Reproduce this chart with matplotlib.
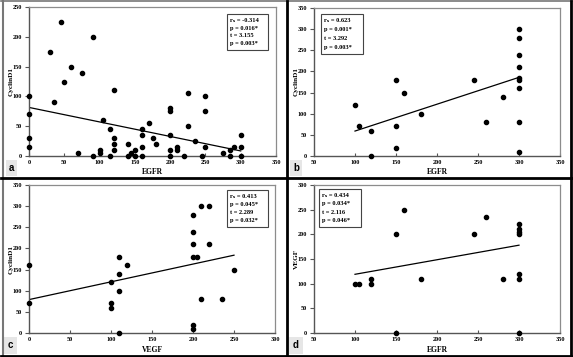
import matplotlib
matplotlib.use("Agg")
import matplotlib.pyplot as plt
from matplotlib.patches import Rectangle
from matplotlib.lines import Line2D

plt.rcParams['font.family'] = ['Liberation Serif', 'DejaVu Serif', 'DejaVu Sans']
plt.rcParams['font.weight'] = 'bold'

W, H = 573, 357

# panel a: CyclinD1 vs EGFR
a_x = [0, 0, 0, 0, 30, 35, 45, 50, 60, 70, 75, 90, 90, 100, 100, 105, 115, 115,
       120, 120, 120, 120, 140, 140, 145, 150, 150, 160, 160, 160, 160, 170, 175,
       180, 200, 200, 200, 200, 200, 210, 210, 220, 225, 225, 235, 245, 250, 250,
       250, 275, 285, 285, 290, 300, 300, 300]
a_y = [100, 70, 30, 15, 175, 90, 225, 125, 150, 5, 140, 200, 0, 10, 5, 60, 45, 0,
       110, 30, 20, 10, 20, 0, 5, 10, 0, 45, 35, 15, 0, 55, 30,
       20, 80, 75, 35, 10, 0, 15, 10, 0, 105, 50, 25, 0, 100, 75,
       15, 5, 10, 0, 15, 35, 15, 0]
a_fit_x = [0, 300]
a_fit_y = [81.5, 8.5]
a_stats = ["r\u209b = -0.314", "p = 0.016*", "t = 3.155", "p = 0.003*"]

# panel b: CyclinD1 vs EGFR
b_x = [100, 105, 120, 120, 150, 150, 150, 160, 180, 245, 260, 280,
       300, 300, 300, 300, 300, 300, 300, 300, 300]
b_y = [120, 70, 60, 0, 180, 70, 20, 150, 100, 180, 80, 140,
       300, 280, 240, 210, 185, 180, 160, 80, 10]
b_fit_x = [100, 300]
b_fit_y = [59, 186]
b_stats = ["r\u209b = 0.623", "p = 0.001*", "t = 3.292", "p = 0.003*"]

# panel c: CyclinD1 vs VEGF
c_x = [0, 0, 100, 100, 100, 110, 110, 110, 110, 120, 200, 200, 200, 200, 200,
       200, 205, 210, 210, 220, 220, 235, 250]
c_y = [160, 70, 120, 70, 60, 180, 140, 100, 0, 160, 280, 240, 210, 180, 20,
       10, 180, 300, 80, 300, 210, 80, 150]
c_fit_x = [0, 250]
c_fit_y = [79, 184]
c_stats = ["r\u209b = 0.413", "p = 0.045*", "t = 2.289", "p = 0.032*"]

# panel d: VEGF vs EGFR
d_x = [100, 105, 120, 120, 150, 150, 160, 180, 245, 260, 280,
       300, 300, 300, 300, 300, 300, 300]
d_y = [100, 100, 110, 100, 200, 0, 250, 110, 200, 235, 110,
       220, 210, 205, 200, 120, 110, 0]
d_fit_x = [100, 300]
d_fit_y = [119, 178]
d_stats = ["r\u209b = 0.434", "p = 0.034*", "t = 2.116", "p = 0.046*"]


def fx(x):
    return x / W


def fy(y):
    return 1 - y / H


fig = plt.figure(figsize=(W / 100, H / 100), dpi=100)


def panel(rect, xs, ys, fit_x, fit_y, xlim, ylim, xlabel, ylabel,
          stats, box, letter, lbox, ylab_x, xlab_y):
    l, t, r, b = rect
    ax = fig.add_axes([fx(l), fy(b), (r - l) / W, (b - t) / H])
    ax.scatter(xs, ys, s=9, color='black', zorder=3, clip_on=False)
    ax.plot(fit_x, fit_y, color='black', lw=0.9, zorder=2)
    ax.set_xlim(*xlim)
    ax.set_ylim(*ylim)
    ax.set_xticks(range(xlim[0], xlim[1] + 1, 50))
    ax.set_yticks(range(ylim[0], ylim[1] + 1, 50))
    ax.tick_params(axis='x', direction='in', length=2.5, width=0.8,
                   labelsize=4.5, pad=3, colors='#555555', labelcolor='black')
    ax.tick_params(axis='y', direction='out', length=3, width=0.8,
                   labelsize=4.5, pad=2, colors='#555555', labelcolor='black')
    for side in ['left', 'bottom']:
        ax.spines[side].set_color('#555555')
        ax.spines[side].set_linewidth(1.0)
    for side in ['top', 'right']:
        ax.spines[side].set_color('#8c8c8c')
        ax.spines[side].set_linewidth(0.9)
    fig.text(fx((l + r) / 2), fy(xlab_y), xlabel, ha='center', va='center',
             fontsize=5.5, fontweight='bold')
    fig.text(fx(ylab_x), fy((t + b) / 2), ylabel, ha='center', va='center',
             rotation=90, fontsize=5.2, fontweight='bold')
    bl, bt, br, bb = box
    fig.patches.append(Rectangle((fx(bl), fy(bb)), (br - bl) / W, (bb - bt) / H,
                                 transform=fig.transFigure, fill=True,
                                 facecolor='white', edgecolor='#444444',
                                 lw=0.8, zorder=5))
    step = (bb - bt - 5) / 4
    for i, s in enumerate(stats):
        fig.text(fx(bl + 3.5), fy(bt + 2.5 + step * (i + 0.5)), s, ha='left',
                 va='center', fontsize=4.6, fontweight='bold', zorder=6)
    ll, lt, lr, lb = lbox
    fig.patches.append(Rectangle((fx(ll), fy(lb)), (lr - ll) / W, (lb - lt) / H,
                                 transform=fig.transFigure, facecolor='#e6e6e6',
                                 edgecolor='none', zorder=1))
    fig.text(fx((ll + lr) / 2), fy((lt + lb) / 2), letter, ha='center',
             va='center', fontsize=7, fontweight='bold',
             family=['Liberation Sans', 'DejaVu Sans'], zorder=2)
    return ax


panel((29, 7, 276, 156), a_x, a_y, a_fit_x, a_fit_y, (0, 350), (0, 250),
      "EGFR", "CyclinD1", a_stats, (227, 14, 268, 50), "a", (6, 160, 17, 176),
      11, 172)
panel((314, 8, 560, 156), b_x, b_y, b_fit_x, b_fit_y, (50, 350), (0, 350),
      "EGFR", "CyclinD1", b_stats, (321, 14, 363, 54), "b", (290, 160, 302, 176),
      296, 172)
panel((29, 185, 275, 333), c_x, c_y, c_fit_x, c_fit_y, (0, 300), (0, 350),
      "VEGF", "CyclinD1", c_stats, (227, 190, 268, 227), "c", (3, 337, 17, 354),
      11, 350)
panel((314, 185, 560, 333), d_x, d_y, d_fit_x, d_fit_y, (50, 350), (0, 300),
      "EGFR", "VEGF", d_stats, (319, 189, 361, 227), "d", (288, 337, 303, 354),
      296, 350)

# frame lines around and between the panels
frame = [
    ((2.5, 2.5), (1, 356), '#777777', 1.5),
    ((1, 572), (1, 1), '#777777', 1.2),
    ((571, 571), (1, 356), 'black', 2),
    ((1, 572), (355.5, 355.5), 'black', 2),
    ((1, 572), (177.5, 177.5), 'black', 2),
    ((287, 287), (1, 356), 'black', 2),
]
for xs, ys, col, lw in frame:
    fig.lines.append(Line2D([fx(v) for v in xs], [fy(v) for v in ys],
                            transform=fig.transFigure, color=col, lw=lw))

fig.savefig("out.png", dpi=100)
